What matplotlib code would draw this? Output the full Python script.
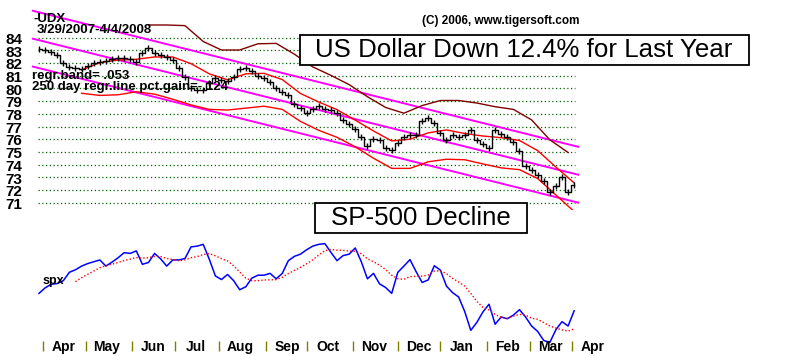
import numpy as np
import pandas as pd
import matplotlib
matplotlib.use("Agg")
import matplotlib.pyplot as plt
from matplotlib.patches import Rectangle

plt.rcParams['font.family'] = ['Liberation Sans', 'DejaVu Sans']

######### data (x = trading day number, day 0 = 3/29/2007)
sample_step = 3
udx_close = [83.1, 83.0, 82.9, 82.6, 82.0, 81.7, 81.6, 81.5, 81.8, 82.0,
             82.1, 82.2, 82.3, 82.4, 82.4, 82.3, 82.05, 82.8, 83.2, 82.8,
             82.6, 82.5, 82.25, 81.65, 80.9, 80.0, 79.9, 79.9, 80.4, 80.8,
             80.7, 80.6, 80.9, 81.5, 81.6, 81.35, 80.95, 80.8, 80.5, 80.05,
             79.7, 79.45, 78.8, 78.45, 78.05, 78.4, 78.65, 78.4, 78.3, 78.05,
             77.5, 77.2, 76.8, 76.2, 75.5, 76.05, 75.9, 75.3, 75.15, 75.7,
             76.15, 76.3, 76.3, 77.4, 77.7, 77.3, 76.5, 75.9, 76.3, 76.2,
             76.3, 76.7, 75.9, 75.6, 75.3, 76.7, 76.4, 76.2, 75.8, 75.1,
             73.9, 73.55, 73.2, 72.7, 71.8, 72.3, 73.0, 71.8, 72.4]

spx_close = [1420, 1435, 1445, 1447, 1455, 1478, 1485, 1495, 1502, 1507,
             1512, 1495, 1506, 1518, 1532, 1530, 1537, 1500, 1505, 1530,
             1515, 1495, 1512, 1512, 1516, 1548, 1550, 1555, 1514, 1468,
             1458, 1472, 1455, 1430, 1438, 1462, 1470, 1470, 1475, 1460,
             1475, 1510, 1522, 1528, 1540, 1550, 1555, 1557, 1533, 1510,
             1524, 1528, 1545, 1507, 1460, 1475, 1446, 1436, 1420, 1478,
             1495, 1513, 1480, 1450, 1457, 1496, 1484, 1440, 1422, 1410,
             1370, 1318, 1340, 1369, 1390, 1335, 1355, 1350, 1360, 1375,
             1355, 1330, 1315, 1290, 1285, 1320, 1342, 1330, 1372]

band_start, band_step = 21, 9
red_upper = [81.45, 82.03, 82.24, 82.30, 82.48, 82.48, 81.95, 81.15, 80.68, 81.15,
             81.19, 80.70, 79.60, 78.93, 78.33, 77.50, 76.65, 75.86, 76.00, 76.50,
             76.73, 76.45, 76.25, 76.12, 75.90, 75.10, 73.80, 72.55]
red_lower = [79.62, 79.45, 79.50, 79.74, 79.55, 79.15, 78.70, 78.35, 78.30, 78.45,
             78.60, 78.35, 77.40, 76.70, 76.15, 75.40, 74.50, 73.70, 73.70, 74.22,
             74.42, 74.38, 74.05, 73.74, 73.60, 72.90, 71.60, 70.30]

outer_start = 54
outer_upper = [85.00, 85.00, 84.95, 83.70, 83.03, 83.03, 83.52, 83.55, 82.70, 81.70,
               81.03, 80.30, 79.35, 78.50, 78.05, 78.65, 79.05, 79.05, 78.85, 78.56,
               78.35, 77.52, 75.95, 74.95]

reg_days = [-3, 266]
reg_mid = [83.92, 73.2]
reg_band = 2.2

y_levels = list(range(71, 85))
months = ["Apr", "May", "Jun", "Jul", "Aug", "Sep", "Oct", "Nov", "Dec",
          "Jan", "Feb", "Mar", "Apr"]

######### figure
W, H = 800, 356
fig = plt.figure(figsize=(W / 100, H / 100), dpi=100)
fig.patch.set_facecolor("white")

xlim = (-19.24, 375.4)
ax1 = fig.add_axes([0, 1 - 210 / H, 1, 210 / H])
ax1.set_xlim(xlim)
ax1.set_ylim(70.42, 86.97)
ax1.axis("off")

ax2 = fig.add_axes([0, 0, 1, 146 / H])
ax2.set_xlim(xlim)
ax2.set_ylim(1247.4, 1649.6)
ax2.axis("off")

def px(x, y):
    return x / W, 1 - y / H

# grid lines + labels
ax1.hlines(y_levels, -0.5, 264.5, colors="#006400", linestyles=(0, (1, 2)), lw=0.9)
for lv in y_levels:
    ax1.text(-12.5, lv - 0.18, str(lv), fontsize=11, fontweight="bold",
             ha="center", va="center")

# regression channel
reg_mid = np.array(reg_mid)
for off in (reg_band, 0, -reg_band):
    ax1.plot(reg_days, reg_mid + off, color="#ff00ff", lw=1.4)

# bands
bx = band_start + band_step * np.arange(len(red_upper))
ax1.plot(bx, red_upper, color="#ff0000", lw=1)
ax1.plot(bx, red_lower, color="#ff0000", lw=1)
ox = outer_start + band_step * np.arange(len(outer_upper))
ax1.plot(ox, outer_upper, color="#800000", lw=1)

# price bars
cx = sample_step * np.arange(len(udx_close))
ax1.plot(cx, udx_close, color="black", lw=1, drawstyle="steps-mid")
ax1.plot(cx, udx_close, "|", color="black", ms=5, mew=1)

# lower panel: spx + moving average
sx = sample_step * np.arange(len(spx_close))
spx = pd.Series(spx_close, index=sx)
ax2.plot(sx, spx.values, color="#0000ff", lw=1.1)
ma = spx.rolling(7).mean()
ax2.plot(sx, ma.values, color="#ff0000", lw=1, linestyle=(0, (1, 1.5)))

# month ticks
days = pd.bdate_range("2007-03-29", "2008-04-04")
dser = pd.Series(np.arange(len(days)), index=days)
month_idx = dser.groupby([days.year, days.month]).first().values[1:]
trans = ax2.get_xaxis_transform()
ax2.vlines(month_idx, 0.034, 0.103, colors="#808000", lw=1, transform=trans)
for m, lab in zip(month_idx, months):
    ax2.text(m + 10.3, 0.062, lab, fontsize=10, fontweight="bold",
             ha="center", va="center", transform=trans)

# texts
small = dict(fontsize=9.5, fontweight="bold", va="center", ha="left")
fig.text(*px(33, 19), "-UDX", **small)
fig.text(*px(37, 30), "3/29/2007-4/4/2008", **small)
fig.text(*px(32, 76), "regr.band= .053", **small)
fig.text(*px(32, 87), "250 day regr.line pct.gain=-.124", **small)
fig.text(*px(422, 21), "(C) 2006, www.tigersoft.com", fontsize=8.5,
         fontweight="bold", va="center", ha="left")
fig.text(*px(43, 281), "spx", fontsize=9, fontweight="bold", va="center", ha="left")

# boxed captions
for (x0, y0, x1, y1) in [(300, 35, 749, 65), (315, 203, 527, 233)]:
    fig.add_artist(Rectangle((x0 / W, 1 - y1 / H), (x1 - x0) / W, (y1 - y0) / H,
                             transform=fig.transFigure, fc="white", ec="black", lw=1.3))
fig.text(*px(524, 50), "US Dollar Down 12.4% for Last Year", fontsize=18.6,
         ha="center", va="center")
fig.text(*px(421, 218), "SP-500 Decline", fontsize=18.6, ha="center", va="center")

fig.savefig("out.png", dpi=100, facecolor="white")
